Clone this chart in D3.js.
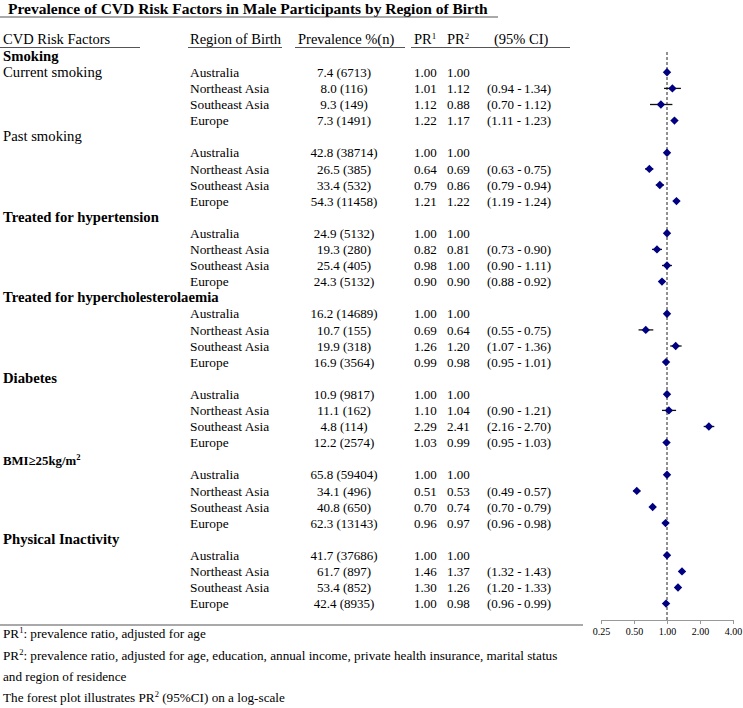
<!DOCTYPE html>
<html><head><meta charset="utf-8">
<script src="https://cdn.jsdelivr.net/npm/d3@7"></script>
<style>
body{margin:0;background:#fff;}
svg text{font-family:"Liberation Serif","Times New Roman",serif;fill:#000;}
</style></head>
<body><svg id="c" width="743" height="708"></svg>
<script>
const title = "Prevalence of CVD Risk Factors in Male Participants by Region of Birth";
const groupTitle = "Smoking";
const blockLabels = ["Current smoking","Past smoking","Treated for hypertension","Treated for hypercholesterolaemia","Diabetes","BMI","Physical Inactivity"];
const blockBold = [false,false,true,true,true,true,true];
const regions = ["Australia","Northeast Asia","Southeast Asia","Europe"];
const prevPct = [7.4,8.0,9.3,7.3, 42.8,26.5,33.4,54.3, 24.9,19.3,25.4,24.3, 16.2,10.7,19.9,16.9, 10.9,11.1,4.8,12.2, 65.8,34.1,40.8,62.3, 41.7,61.7,53.4,42.4];
const prevN = [6713,116,149,1491, 38714,385,532,11458, 5132,280,405,5132, 14689,155,318,3564, 9817,162,114,2574, 59404,496,650,13143, 37686,897,852,8935];
const pr1 = [1.00,1.01,1.12,1.22, 1.00,0.64,0.79,1.21, 1.00,0.82,0.98,0.90, 1.00,0.69,1.26,0.99, 1.00,1.10,2.29,1.03, 1.00,0.51,0.70,0.96, 1.00,1.46,1.30,1.00];
const pr2 = [1.00,1.12,0.88,1.17, 1.00,0.69,0.86,1.22, 1.00,0.81,1.00,0.90, 1.00,0.64,1.20,0.98, 1.00,1.04,2.41,0.99, 1.00,0.53,0.74,0.97, 1.00,1.37,1.26,0.98];
const ciLo = [null,0.94,0.70,1.11, null,0.63,0.79,1.19, null,0.73,0.90,0.88, null,0.55,1.07,0.95, null,0.90,2.16,0.95, null,0.49,0.70,0.96, null,1.32,1.20,0.96];
const ciHi = [null,1.34,1.12,1.23, null,0.75,0.94,1.24, null,0.90,1.11,0.92, null,0.75,1.36,1.01, null,1.21,2.70,1.03, null,0.57,0.79,0.98, null,1.43,1.33,0.99];
const axisTicks = [0.25,0.5,1,2,4];
const footnotes = [
  ["PR","1",": prevalence ratio, adjusted for age"],
  ["PR","2",": prevalence ratio, adjusted for age, education, annual income, private health insurance, marital status"],
  ["and region of residence"],
  ["The forest plot illustrates PR","2"," (95%CI) on a log-scale"]
];

const svg = d3.select("#c");
const fsHead = 14.5, fsLab = 14.7, fsReg = 13.4, fsVal = 13;
const y = d3.scaleLinear().domain([-1,33]).range([56.2,603.6]);
const x = d3.scaleLog().base(2).domain([0.25,4]).range([601,733]);
const fmt2 = d3.format(".2f");

// title
svg.append("text").attr("x",8).attr("y",13.5).attr("font-weight","bold").attr("font-size",15.5).text(title);
svg.append("line").attr("x1",0).attr("x2",498).attr("y1",17).attr("y2",17).attr("stroke","#555").attr("stroke-width",1.2);

// header
const hb = 44;
const hdr = svg.append("g").attr("font-size",fsHead);
hdr.append("text").attr("x",3).attr("y",hb).text("CVD Risk Factors");
hdr.append("text").attr("x",190).attr("y",hb).text("Region of Birth");
hdr.append("text").attr("x",298).attr("y",hb).text("Prevalence %(n)");
const p1 = hdr.append("text").attr("x",414).attr("y",hb).text("PR");
p1.append("tspan").attr("dy",-5).attr("font-size",9).text("1");
const p2 = hdr.append("text").attr("x",447).attr("y",hb).text("PR");
p2.append("tspan").attr("dy",-5).attr("font-size",9).text("2");
hdr.append("text").attr("x",494).attr("y",hb).text("(95% CI)");
[[0,140],[188,282],[295,405],[411,570]].forEach(([a,b])=>{
  svg.append("line").attr("x1",a).attr("x2",b).attr("y1",47.5).attr("y2",47.5).attr("stroke","#555").attr("stroke-width",1.2);
});

// rows
const rows = [];
blockLabels.forEach((lab,b)=>{
  regions.forEach((r,j)=>{
    rows.push({i:b*4+j, k:b*5+j, region:r});
  });
});
const base = 4.6;
svg.append("text").attr("x",3).attr("y",y(-1)+base).attr("font-size",fsLab).attr("font-weight","bold").text(groupTitle);
blockLabels.forEach((lab,b)=>{
  const k = b===0 ? 0 : b*5-1;
  const t = svg.append("text").attr("x",3).attr("y",y(k)+base).attr("font-size",fsLab)
    .attr("font-weight",blockBold[b]?"bold":"normal");
  if(lab==="BMI"){
    t.attr("font-size",12.8).attr("y",y(k)+base+1.5).text("BMI\u226525kg/m");
    t.append("tspan").attr("dy",-5).attr("font-size",8.5).text("2");
  } else t.text(lab);
});
const g = svg.append("g").attr("font-size",fsVal);
rows.forEach(d=>{
  const yy = y(d.k)+base;
  g.append("text").attr("x",190).attr("y",yy).attr("font-size",fsReg).text(d.region);
  g.append("text").attr("x",344).attr("y",yy).attr("text-anchor","middle").text(prevPct[d.i].toFixed(1)+" ("+prevN[d.i]+")");
  g.append("text").attr("x",414).attr("y",yy).text(fmt2(pr1[d.i]));
  g.append("text").attr("x",447).attr("y",yy).text(fmt2(pr2[d.i]));
  if(ciLo[d.i]!==null){
    g.append("text").attr("x",487).attr("y",yy).text("("+fmt2(ciLo[d.i])+" -");
    g.append("text").attr("x",551).attr("y",yy).attr("text-anchor","end").text(fmt2(ciHi[d.i])+")");
  }
});

// forest
svg.append("line").attr("x1",x(1)).attr("x2",x(1)).attr("y1",52).attr("y2",620)
  .attr("stroke","#222").attr("stroke-width",1).attr("stroke-dasharray","3,2");
const fg = svg.append("g");
rows.forEach(d=>{
  const cy = y(d.k);
  if(ciLo[d.i]!==null){
    fg.append("line").attr("x1",x(ciLo[d.i])).attr("x2",x(ciHi[d.i])).attr("y1",cy).attr("y2",cy)
      .attr("stroke","#111").attr("stroke-width",1.3);
  }
  const cx = x(pr2[d.i]), s=4.2;
  fg.append("path").attr("d",`M${cx-s},${cy}L${cx},${cy-s}L${cx+s},${cy}L${cx},${cy+s}Z`).attr("fill","#000080");
});
const ax = svg.append("g").attr("transform","translate(0,620)")
  .call(d3.axisBottom(x).tickValues(axisTicks).tickFormat(fmt2).tickSize(4).tickPadding(4));
ax.select(".domain").attr("stroke","#999");
ax.selectAll(".tick line").attr("stroke","#999");
ax.selectAll(".tick text").attr("font-family","Liberation Sans, Arial, sans-serif").attr("font-size",10).attr("fill","#333");

// bottom rule
svg.append("line").attr("x1",0).attr("x2",583).attr("y1",625).attr("y2",625).attr("stroke","#555").attr("stroke-width",1.2);

// footnotes
const fy = [638,660,681,702];
footnotes.forEach((parts,i)=>{
  const t = svg.append("text").attr("x",3).attr("y",fy[i]).attr("font-size",13.2);
  parts.forEach((p,j)=>{
    const ts = t.append("tspan").text(p);
    if(parts.length>1 && j===1) ts.attr("dy",-5).attr("font-size",8.5);
    else if(j===2) ts.attr("dy",5);
  });
});
</script></body></html>
